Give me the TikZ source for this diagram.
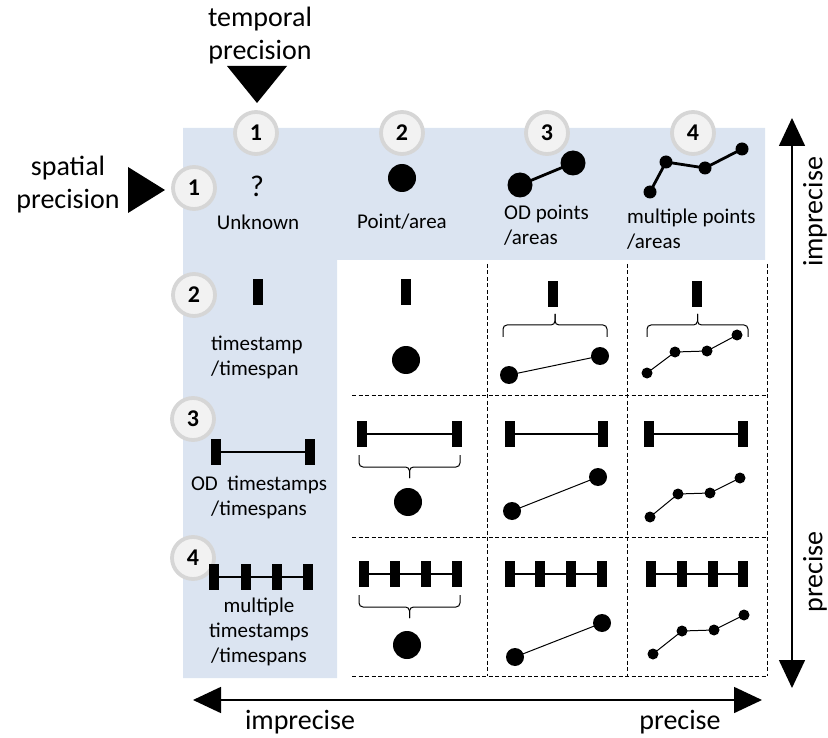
\documentclass[tikz,border=0pt]{standalone}
\usepackage{fontspec}
\setmainfont{Carlito}
\usetikzlibrary{arrows.meta}

\definecolor{panelblue}{RGB}{219,228,241}
\definecolor{ringgray}{RGB}{214,214,214}
\definecolor{ringfill}{RGB}{242,242,242}

\tikzset{
  num/.style={circle, draw=ringgray, fill=ringfill, line width=3.8pt,
    minimum size=42pt, inner sep=0pt, font=\fontsize{24}{24}\selectfont\bfseries},
  lbl/.style={font=\fontsize{21}{25}\selectfont, inner sep=0pt},
  axislbl/.style={font=\fontsize{28}{33}\selectfont, inner sep=0pt},
  cellgrid/.style={dash pattern=on 4pt off 2.5pt, line width=0.8pt},
  link/.style={line width=1pt},
  heavylink/.style={line width=2.8pt},
  bracepath/.style={line width=1pt, rounded corners=4pt},
  axisline/.style={line width=1.6pt,
    {Triangle[length=28pt,width=26pt]}-{Triangle[length=28pt,width=26pt]}},
  pointer/.style={fill=black}
}

% a single time mark
\newcommand{\tickbar}[2]{\fill (#1-5,#2-13) rectangle (#1+5,#2+13);}
% origin/destination time span
\newcommand{\odspan}[3]{\draw[heavylink] (#1,#3) -- (#2,#3); \tickbar{#1}{#3}\tickbar{#2}{#3}}
% four time marks on one line
\newcommand{\ticksfour}[5]{\draw[heavylink] (#1,#5) -- (#4,#5);
  \tickbar{#1}{#5}\tickbar{#2}{#5}\tickbar{#3}{#5}\tickbar{#4}{#5}}
% curly bracket: left x, right x, end y, bar y, tip y
\newcommand{\curlybr}[5]{%
  \draw[bracepath] (#1,#3) -- (#1,#4) -- ({(#1+#2)/2},#4) -- ({(#1+#2)/2},#5);
  \draw[bracepath] (#2,#3) -- (#2,#4) -- ({(#1+#2)/2},#4) -- ({(#1+#2)/2},#5);}

\begin{document}
\begin{tikzpicture}[x=1pt,y=-1pt]
\useasboundingbox (0,0) rectangle (828,738);

% shaded header row and column
\fill[panelblue] (183,128) -- (765,128) -- (765,260) -- (337,260)
  -- (337,678) -- (183,678) -- cycle;

% dashed cell grid
\foreach \yy in {395,537,676} \draw[cellgrid] (352,\yy) -- (767,\yy);
\foreach \xx in {487,627,767} \draw[cellgrid] (\xx,264) -- (\xx,676);

% axis titles with pointers
\node[axislbl, align=center] (ttitle) at (260,36) {temporal\\precision};
\fill[pointer] (227,66) -- (287,66) -- (257,103) -- cycle;
\node[axislbl, align=center] (stitle) at (68,185) {spatial\\precision};
\fill[pointer] (128,167) -- (128,213) -- (165,190) -- cycle;

% level numbers
\node[num] (t1) at (256,133) {1};
\node[num] (t2) at (402,133) {2};
\node[num] (t3) at (547,133) {3};
\node[num] (t4) at (693,133) {4};
\node[num] (s1) at (194,188) {1};
\node[num] (s2) at (194,295) {2};
\node[num] (s3) at (193,419) {3};
\node[num] (s4) at (193,558) {4};

% header row: spatial levels
\node[font=\fontsize{30}{30}\selectfont, inner sep=0pt] (q) at (257,186) {?};
\node[lbl] (unk) at (258,222) {Unknown};
\fill (402,178) circle[radius=14];
\node[lbl] (pa) at (402,222) {Point/area};
\draw[heavylink] (520,185) -- (573,163);
\fill (520,185) circle[radius=12.5];
\fill (573,163) circle[radius=12.5];
\node[lbl, align=left, anchor=west] (odp) at (504,225) {OD points\\/areas};
\draw[heavylink] (650,192) -- (666,162) -- (705,168) -- (742,149);
\foreach \p in {(650,192),(666,162),(705,168),(742,149)} \fill \p circle[radius=6.5];
\node[lbl, align=left, anchor=west] (mpa) at (627,229) {multiple points\\/areas};

% header column: temporal levels
\tickbar{258}{292}
\node[lbl, align=left, anchor=west] (ts) at (211,357) {timestamp\\/timespan};
\odspan{216}{310}{452}
\node[lbl, align=center] (odts) at (259,497) {OD\ \ timestamps\\/timespans};
\ticksfour{214}{246}{277}{308}{577}
\node[lbl, align=center] (mts) at (259,632) {multiple\\timestamps\\/timespans};

% row: single time
\tickbar{406}{292}
\fill (406,360) circle[radius=14];

\tickbar{553}{294}
\curlybr{503}{607}{337}{325}{314}
\draw[link] (509,375) -- (600,356);
\fill (509,375) circle[radius=9];
\fill (600,356) circle[radius=9];

\tickbar{697}{294}
\curlybr{647}{748}{337}{325}{314}
\draw[link] (647,373) -- (675,352) -- (707,351) -- (737,335);
\foreach \p in {(647,373),(675,352),(707,351),(737,335)} \fill \p circle[radius=5.5];

% row: origin/destination times
\odspan{362}{457}{434}
\curlybr{359}{460}{455}{467}{478}
\fill (408,502) circle[radius=14];

\odspan{510}{603}{434}
\draw[link] (512,511) -- (598,477);
\fill (512,511) circle[radius=9];
\fill (598,477) circle[radius=9];

\odspan{649}{743}{434}
\draw[link] (650,517) -- (678,494) -- (710,493) -- (740,478);
\foreach \p in {(650,517),(678,494),(710,493),(740,478)} \fill \p circle[radius=5.5];

% row: multiple times
\ticksfour{364}{395}{426}{457}{574}
\curlybr{359}{460}{595}{607}{618}
\fill (407,645) circle[radius=14];

\ticksfour{510}{540}{571}{602}{574}
\draw[link] (515,657) -- (602,623);
\fill (515,657) circle[radius=9];
\fill (602,623) circle[radius=9];

\ticksfour{651}{682}{713}{743}{574}
\draw[link] (653,654) -- (682,631) -- (714,630) -- (744,615);
\foreach \p in {(653,654),(682,631),(714,630),(744,615)} \fill \p circle[radius=5.5];

% precision axes
\coordinate (vtop) at (792,118);
\coordinate (vbot) at (792,688);
\draw[axisline] (vtop) -- (vbot);
\node[axislbl, rotate=90] (vimp) at (815,212) {imprecise};
\node[axislbl, rotate=90] (vpre) at (815,572) {precise};

\coordinate (hleft) at (193,700);
\coordinate (hright) at (762,700);
\draw[axisline] (hleft) -- (hright);
\node[axislbl] (himp) at (300,722) {imprecise};
\node[axislbl] (hpre) at (680,722) {precise};
\end{tikzpicture}
\end{document}
